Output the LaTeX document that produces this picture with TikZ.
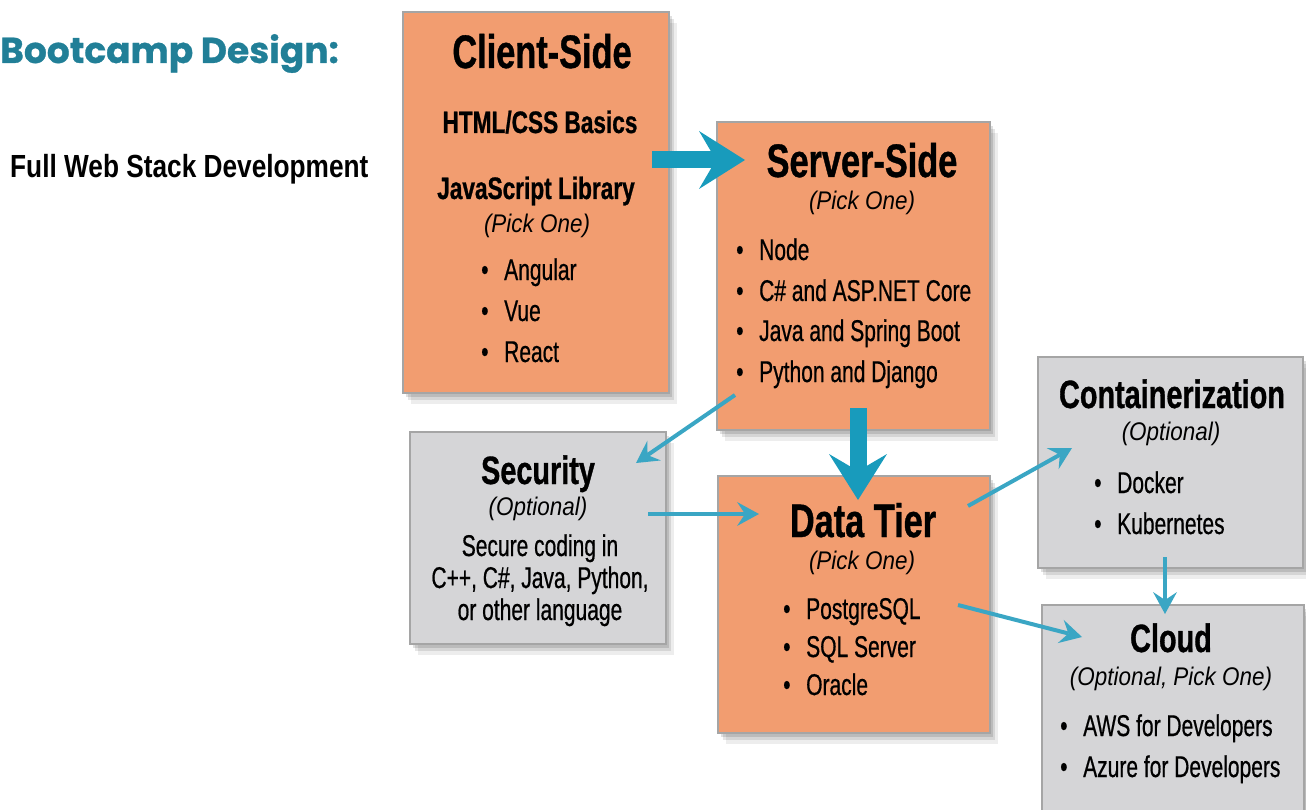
\documentclass[tikz,border=0pt]{standalone}
\usepackage{fontspec}
\setmainfont{Liberation Sans}
\newfontfamily\condf[FakeStretch=0.70,FakeBold=0.6]{Liberation Sans}
\newfontfamily\condt[FakeStretch=0.73,FakeBold=0.8]{Liberation Sans}
\newfontfamily\condi[FakeStretch=0.88]{Liberation Sans}
\newfontfamily\narrowf[FakeStretch=0.82]{Liberation Sans}
\newfontfamily\poppf[FakeBold=0.8]{Poppins}
\usetikzlibrary{arrows.meta,shadows}
\definecolor{orangebox}{RGB}{242,157,112}
\definecolor{graybox}{RGB}{213,213,215}
\definecolor{boxline}{RGB}{165,165,165}
\definecolor{thickblue}{RGB}{24,155,188}
\definecolor{thinblue}{RGB}{58,166,196}
\definecolor{titleteal}{RGB}{33,127,151}
\tikzset{
  bxbase/.style={draw=boxline, line width=2pt, inner sep=0pt,
    drop shadow={shadow xshift=8pt, shadow yshift=-11pt, opacity=0.07, fill=black},
    drop shadow={shadow xshift=5pt, shadow yshift=-7pt, opacity=0.10, fill=black},
    drop shadow={shadow xshift=3pt, shadow yshift=-4pt, opacity=0.12, fill=black}},
  bxo/.style={bxbase, fill=orangebox},
  bxg/.style={bxbase, fill=graybox},
  ttl/.style={font=\condt\bfseries\fontsize{47}{47}\selectfont, anchor=base, inner sep=0pt},
  sttl/.style={font=\condt\bfseries\fontsize{39.5}{39.5}\selectfont, anchor=base, inner sep=0pt},
  subttl/.style={font=\condt\bfseries\fontsize{31}{31}\selectfont, anchor=base, inner sep=0pt},
  pick/.style={font=\condi\itshape\fontsize{25.5}{25.5}\selectfont, anchor=base, inner sep=0pt},
  itm/.style={font=\condf\fontsize{30}{30}\selectfont, anchor=base west, inner sep=0pt},
  bodytxt/.style={font=\condf\fontsize{30}{30}\selectfont, anchor=base, inner sep=0pt},
  thickarr/.style={draw=thickblue, line width=17pt,
    -{Stealth[length=46pt,width=58pt,inset=17pt,line width=0pt]}},
  thinarr/.style={draw=thinblue, line width=4pt,
    -{Stealth[length=22pt,width=24pt,inset=8pt,line width=0pt]}},
}
\newcommand{\bul}[1]{\makebox[23pt][l]{\textbullet}#1}
\begin{document}
\begin{tikzpicture}[x=1pt,y=-1pt]
\useasboundingbox (0,0) rectangle (1306,810);

% heading
\node[anchor=base west, inner sep=0pt, text=titleteal, font=\poppf\bfseries\fontsize{36}{36}\selectfont] (head) at (0,63) {Bootcamp Design:};
\node[anchor=base west, inner sep=0pt, font=\narrowf\bfseries\fontsize{32}{32}\selectfont] (sub) at (10,178) {Full Web Stack Development};

% boxes
\node[bxo, minimum width=266pt, minimum height=381pt] (client) at (536,202.5) {};
\node[bxo, minimum width=273pt, minimum height=308pt] (server) at (853.5,276) {};
\node[bxg, minimum width=256pt, minimum height=212pt] (security) at (538,538) {};
\node[bxo, minimum width=272pt, minimum height=257pt] (data) at (854,604.5) {};
\node[bxg, minimum width=265pt, minimum height=211pt] (contain) at (1170.5,462.5) {};
\node[bxg, minimum width=262pt, minimum height=235pt] (cloud) at (1173,722.5) {};

% client text
\node[ttl] (clientT) at (542,68) {Client-Side};
\node[subttl] (clientA) at (540,133) {HTML/CSS Basics};
\node[subttl] (clientB) at (536,199) {JavaScript Library};
\node[pick] (clientP) at (537,233) {(Pick One)};
\node[itm] (cl1) at (481,280) {\bul{Angular}};
\node[itm] (cl2) at (481,321) {\bul{Vue}};
\node[itm] (cl3) at (481,362) {\bul{React}};

% server text
\node[ttl] (serverT) at (862,177) {Server-Side};
\node[pick] (serverP) at (862,210) {(Pick One)};
\node[itm] (sv1) at (736,260) {\bul{Node}};
\node[itm] (sv2) at (736,301) {\bul{C\# and ASP.NET Core}};
\node[itm] (sv3) at (736,341) {\bul{Java and Spring Boot}};
\node[itm] (sv4) at (736,382) {\bul{Python and Django}};

% security text
\node[sttl] (secT) at (538,484) {Security};
\node[pick] (secP) at (538,515) {(Optional)};
\node[bodytxt] (sec1) at (540,556) {Secure coding in};
\node[bodytxt] (sec2) at (540,588) {C++, C\#, Java, Python,};
\node[bodytxt] (sec3) at (540,620) {or other language};

% data text
\node[ttl] (dataT) at (863,537) {Data Tier};
\node[pick] (dataP) at (862,569) {(Pick One)};
\node[itm] (dt1) at (783,619) {\bul{PostgreSQL}};
\node[itm] (dt2) at (783,657) {\bul{SQL Server}};
\node[itm] (dt3) at (783,695) {\bul{Oracle}};

% containerization text
\node[sttl] (conT) at (1172,408) {Containerization};
\node[pick] (conP) at (1171,440) {(Optional)};
\node[itm] (cn1) at (1094,493) {\bul{Docker}};
\node[itm] (cn2) at (1094,534) {\bul{Kubernetes}};

% cloud text
\node[sttl] (cloT) at (1171,652) {Cloud};
\node[pick] (cloP) at (1171,685) {(Optional, Pick One)};
\node[itm] (cd1) at (1060,736) {\bul{AWS for Developers}};
\node[itm] (cd2) at (1060,777) {\bul{Azure for Developers}};

% connector end points
\coordinate (a1s) at (652,160);  \coordinate (a1e) at (745,160);
\coordinate (a2s) at (858,408);  \coordinate (a2e) at (858,500);
\coordinate (b1s) at (735,395);  \coordinate (b1e) at (636,463);
\coordinate (b2s) at (648,514);  \coordinate (b2e) at (759,514);
\coordinate (b3s) at (968,506);  \coordinate (b3e) at (1072,448);
\coordinate (b4s) at (958,605);  \coordinate (b4e) at (1082,637);
\coordinate (b5s) at (1165,557); \coordinate (b5e) at (1165,614);

\draw[thickarr] (a1s) -- (a1e);
\draw[thickarr] (a2s) -- (a2e);
\draw[thinarr] (b1s) -- (b1e);
\draw[thinarr] (b2s) -- (b2e);
\draw[thinarr] (b3s) -- (b3e);
\draw[thinarr] (b4s) -- (b4e);
\draw[thinarr] (b5s) -- (b5e);
\end{tikzpicture}
\end{document}
